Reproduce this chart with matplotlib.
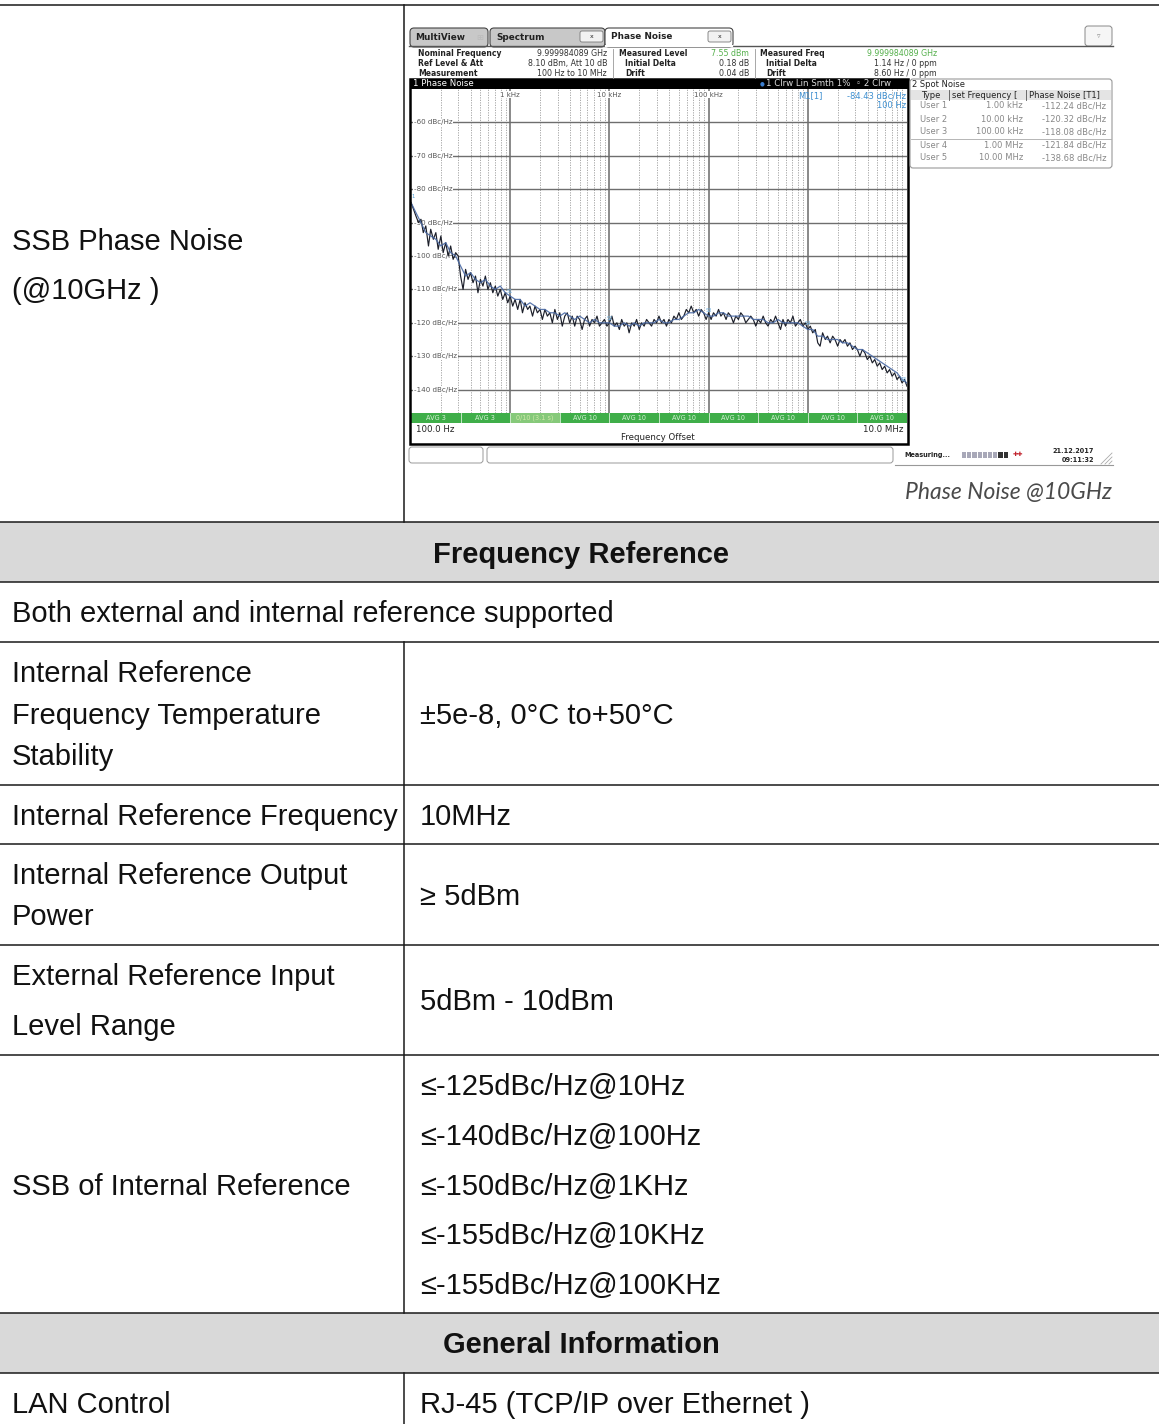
import matplotlib.pyplot as plt
import matplotlib.transforms as mtransforms
from matplotlib.patches import Rectangle, FancyBboxPatch

plt.rcParams['font.family'] = ['Liberation Sans', 'DejaVu Sans']

W, H = 1159, 1424

# ---------------- table text ----------------
phase_label = ["SSB Phase Noise", "(@10GHz )"]
section_titles = ["Frequency Reference", "General Information"]
full_row = "Both external and internal reference supported"
left_cells = [
    ["Internal Reference", "Frequency Temperature", "Stability"],
    ["Internal Reference Frequency"],
    ["Internal Reference Output", "Power"],
    ["External Reference Input", "Level Range"],
    ["SSB of Internal Reference"],
    ["LAN Control"],
]
right_cells = [
    ["±5e-8, 0°C to+50°C"],
    ["10MHz"],
    ["≥ 5dBm"],
    ["5dBm - 10dBm"],
    ["≤-125dBc/Hz@10Hz", "≤-140dBc/Hz@100Hz", "≤-150dBc/Hz@1KHz",
     "≤-155dBc/Hz@10KHz", "≤-155dBc/Hz@100KHz"],
    ["RJ-45 (TCP/IP over Ethernet )"],
]
caption = "Phase Noise @10GHz"

# ---------------- phase noise screenshot data ----------------
# sweep points: 40 per decade (mantissa of each point in a decade)
sweep_mant = [1.00, 1.06, 1.12, 1.19, 1.26, 1.33, 1.41, 1.50, 1.58, 1.68,
              1.78, 1.88, 2.00, 2.11, 2.24, 2.37, 2.51, 2.66, 2.82, 2.99,
              3.16, 3.35, 3.55, 3.76, 3.98, 4.22, 4.47, 4.73, 5.01, 5.31,
              5.62, 5.96, 6.31, 6.68, 7.08, 7.50, 7.94, 8.41, 8.91, 9.44]
sweep_decades = [1e2, 1e3, 1e4, 1e5, 1e6]
freqs = [m * d for d in sweep_decades for m in sweep_mant] + [1e7]

# trace 2 (Clrw, dark)
trace_clrw = [
    -84, -86, -88, -90, -89, -93, -91, -97, -92, -95,
    -93, -98, -94, -99, -96, -100, -97, -101, -99, -100,
    -106, -110, -104, -107, -105, -108, -106, -111, -107, -109,
    -106, -110, -108, -111, -109, -112, -110, -113, -111, -114,
    -112, -115, -113, -116, -113, -117, -114, -116, -115, -118,
    -115, -117, -116, -119, -116, -118, -117, -120, -116, -119,
    -117, -121, -118, -117, -120, -118, -121, -118, -119, -122,
    -119, -118, -121, -119, -120, -118, -121, -120, -119, -121,
    -120, -118, -121, -120, -122, -119, -121, -120, -123, -120,
    -121, -119, -122, -120, -121, -119, -120, -121, -119, -120,
    -118, -120, -119, -121, -119, -120, -118, -119, -117, -119,
    -118, -116, -117, -115, -117, -116, -118, -116, -117, -119,
    -117, -119, -117, -118, -116, -118, -117, -119, -117, -118,
    -120, -118, -119, -117, -118, -120, -119, -118, -119, -121,
    -119, -120, -118, -120, -121, -119, -120, -118, -120, -122,
    -119, -121, -119, -120, -118, -121, -120, -119, -121, -120,
    -122, -121, -123, -122, -126, -127, -123, -125, -124, -126,
    -124, -125, -127, -125, -126, -125, -127, -126, -128, -127,
    -128, -130, -128, -129, -131, -130, -132, -131, -133, -132,
    -134, -133, -135, -134, -136, -135, -137, -136, -138, -137,
    -139]

# trace 1 (Clrw Lin Smth 1%, blue) on a coarser grid
smooth_freqs = [100, 112, 126, 141, 158, 178, 200, 224, 251, 282,
                316, 355, 398, 447, 501, 562, 631, 708, 794, 891,
                1000, 1122, 1259, 1413, 1585, 1778, 1995, 2239, 2512, 2818,
                3162, 3548, 3981, 4467, 5012, 5623, 6310, 7079, 7943, 8913,
                1.000e4, 1.122e4, 1.259e4, 1.413e4, 1.585e4, 1.778e4, 1.995e4, 2.239e4, 2.512e4, 2.818e4,
                3.162e4, 3.548e4, 3.981e4, 4.467e4, 5.012e4, 5.623e4, 6.310e4, 7.079e4, 7.943e4, 8.913e4,
                1.000e5, 1.122e5, 1.259e5, 1.413e5, 1.585e5, 1.778e5, 1.995e5, 2.239e5, 2.512e5, 2.818e5,
                3.162e5, 3.548e5, 3.981e5, 4.467e5, 5.012e5, 5.623e5, 6.310e5, 7.079e5, 7.943e5, 8.913e5,
                1.000e6, 1.122e6, 1.259e6, 1.413e6, 1.585e6, 1.778e6, 1.995e6, 2.239e6, 2.512e6, 2.818e6,
                3.162e6, 3.548e6, 3.981e6, 4.467e6, 5.012e6, 5.623e6, 6.310e6, 7.079e6, 7.943e6, 8.913e6,
                1.000e7]
trace_smooth = [-84, -87, -90, -93, -94, -95, -97, -96, -99, -100,
                -103, -106, -105, -107, -108, -107, -109, -110, -109, -111,
                -112, -113, -113, -115, -114, -115, -116, -116, -117, -117,
                -118, -117, -118, -119, -118, -119, -120, -119, -120, -120,
                -120, -121, -121, -120, -121, -120, -121, -120, -120, -120,
                -119, -120, -120, -119, -119, -118, -117, -117, -116, -117,
                -118, -118, -117, -117, -118, -118, -118, -118, -118, -119,
                -119, -119, -120, -120, -119, -120, -120, -120, -120, -121,
                -122, -122, -124, -124, -125, -125, -125, -126, -126, -127,
                -128, -128, -129, -130, -131, -132, -133, -134, -135, -137,
                -138]

y_levels = [-60, -70, -80, -90, -100, -110, -120, -130, -140]
decade_labels = ["1 kHz", "10 kHz", "100 kHz"]
decade_freqs = [1e3, 1e4, 1e5]
avg_edges = [100, 316.2, 1000, 3162, 1e4, 3.162e4, 1e5, 3.162e5, 1e6, 3.162e6, 1e7]
avg_labels = ["AVG 3", "AVG 3", "0/10 (3.1 s)", "AVG 10", "AVG 10", "AVG 10",
              "AVG 10", "AVG 10", "AVG 10", "AVG 10"]

spot_users = ["User 1", "User 2", "User 3", "User 4", "User 5"]
spot_freq = ["1.00 kHz", "10.00 kHz", "100.00 kHz", "1.00 MHz", "10.00 MHz"]
spot_noise = ["-112.24 dBc/Hz", "-120.32 dBc/Hz", "-118.08 dBc/Hz",
              "-121.84 dBc/Hz", "-138.68 dBc/Hz"]
spot_hz = [1e3, 1e4, 1e5, 1e6, 1e7]
spot_db = [-112.24, -120.32, -118.08, -121.84, -138.68]

info_labels = [["Nominal Frequency", "Ref Level & Att", "Measurement"],
               ["Measured Level", " Initial Delta", " Drift"],
               ["Measured Freq", " Initial Delta", " Drift"]]
info_values = [["9.999984089 GHz", "8.10 dBm, Att 10 dB", "100 Hz to 10 MHz"],
               ["7.55 dBm", "0.18 dB", "0.04 dB"],
               ["9.999984089 GHz", "1.14 Hz / 0 ppm", "8.60 Hz / 0 ppm"]]

# ---------------- figure ----------------
fig = plt.figure(figsize=(W / 100, H / 100), dpi=100)
ax = fig.add_axes([0, 0, 1, 1])
ax.set_xlim(0, W)
ax.set_ylim(H, 0)
ax.axis('off')
ax.set_zorder(2)

TS = 21
LC = '#1a1a1a'


def t(x, y, s, **kw):
    kw.setdefault('fontsize', TS)
    kw.setdefault('color', '#111111')
    kw.setdefault('va', 'baseline')
    ax.text(x, y, s, **kw)


# table grey bands and lines
for y0 in [522, 1313]:
    ax.add_patch(Rectangle((0, y0), W, 60, fc='#d9d9d9', ec='none', zorder=0))
for y in [5, 522, 582, 642, 785, 844, 945, 1055, 1313, 1373]:
    ax.plot([0, W], [y, y], color=LC, lw=1.1, zorder=1)
for y0, y1 in [(5, 522), (642, 1313), (1373, H)]:
    ax.plot([404, 404], [y0, y1], color=LC, lw=1.1, zorder=1)

# table texts
t(12, 250, phase_label[0])
t(12, 299, phase_label[1])
t(581, 563, section_titles[0], ha='center', fontweight='bold')
t(581, 1353, section_titles[1], ha='center', fontweight='bold')
t(12, 622, full_row)

left_y = [[682, 724, 765], [825], [884, 925], [985, 1035], [1195], [1413]]
right_y = [[724], [825], [905], [1010], [1095, 1145, 1195, 1244, 1294], [1413]]
for lines, ys in zip(left_cells, left_y):
    for s, y in zip(lines, ys):
        t(12, y, s)
for lines, ys in zip(right_cells, right_y):
    for s, y in zip(lines, ys):
        t(420, y, s)

# ---------------- screenshot chrome ----------------
SF = 'DejaVu Sans'


def st(x, y, s, size=6, **kw):
    kw.setdefault('color', '#222222')
    kw.setdefault('va', 'center')
    ax.text(x, y, s, fontsize=size, family=SF, **kw)


# tabs
ax.plot([409, 1113], [46, 46], color='#555555', lw=1.0)
for x0, x1, fc in [(410, 488, '#c8c8c8'), (490, 605, '#c8c8c8'), (605, 733, 'white')]:
    ax.add_patch(FancyBboxPatch((x0, 28), x1 - x0, 19, boxstyle='round,pad=0,rounding_size=4',
                                fc=fc, ec='#444444', lw=0.8))
st(415, 37.5, "MultiView", 6.4, fontweight='bold')
st(476, 37, "⊞", 6, color='#bbbbbb')
st(496, 37.5, "Spectrum", 6.4, fontweight='bold')
st(611, 36.5, "Phase Noise", 6.4, fontweight='bold')
for bx in [580, 708]:
    ax.add_patch(FancyBboxPatch((bx, 31), 23, 11, boxstyle='round,pad=0,rounding_size=2',
                                fc='#f2f2f2', ec='#777777', lw=0.6))
    st(bx + 11.5, 36.5, "x", 4.5, ha='center')
ax.plot([606, 732], [46, 46], color='white', lw=1.6)
ax.add_patch(FancyBboxPatch((1085, 26), 27, 20, boxstyle='round,pad=0,rounding_size=3',
                            fc='#f6f6f6', ec='#888888', lw=0.7))
st(1098.5, 36, "▿", 5, ha='center', color='#888888')

# info block
label_x = [[418, 418, 418], [619, 625, 625], [760, 766, 766]]
value_x = [607, 749, 937]
rows_y = [54, 63.5, 73]
for c in range(3):
    for r in range(3):
        st(label_x[c][r], rows_y[r], info_labels[c][r].strip(), 5.5, fontweight='bold')
        col = '#55b04c' if (r == 0 and c > 0) else '#333333'
        st(value_x[c], rows_y[r], info_values[c][r], 5.7, ha='right', color=col)
for x in [613, 755]:
    ax.plot([x, x], [49, 78], color='#999999', lw=0.6)

# plot frame and title bar
ax.add_patch(Rectangle((410, 79), 498, 10, fc='black', ec='none'))
st(413, 84, "1 Phase Noise", 6.2, color='white')
st(760, 84, "●", 4, color='#3c7fd0')
st(766, 84, "1 Clrw Lin Smth 1%  ◦ 2 Clrw", 6.2, color='#dddddd')
ax.add_patch(Rectangle((410, 79), 498, 365, fc='none', ec='black', lw=1.8))
st(798, 96, "M1[1]", 6, color='#3d8fd0')
st(906, 96, "-84.43 dBc/Hz", 6, ha='right', color='#3d8fd0')
st(906, 106, "100 Hz", 6, ha='right', color='#3d8fd0')
st(416, 429, "100.0 Hz", 6.2)
st(903, 429, "10.0 MHz", 6.2, ha='right')
st(658, 437, "Frequency Offset", 6.2, ha='center')

# spot noise table
ax.add_patch(FancyBboxPatch((910, 79), 202, 89, boxstyle='round,pad=0,rounding_size=3',
                            fc='white', ec='#999999', lw=0.8))
st(912, 84.5, "2 Spot Noise", 6)
ax.add_patch(Rectangle((911, 89.5), 200, 10, fc='#e4e4e4', ec='none'))
st(921, 95, "Type", 6)
st(952, 95, "set Frequency [", 6)
st(1029, 95, "Phase Noise [T1]", 6)
for x in [949, 1026]:
    ax.plot([x, x], [90, 100], color='#555555', lw=0.6)
for i in range(5):
    y = 106 + i * 13
    st(920, y, spot_users[i], 6, color='#888888')
    st(1023, y, spot_freq[i], 6, ha='right', color='#888888')
    st(1106, y, spot_noise[i], 6, ha='right', color='#888888')
ax.plot([911, 1111], [139, 139], color='#aaaaaa', lw=0.6)

# status bar
for x0, x1 in [(409, 483), (487, 893)]:
    ax.add_patch(FancyBboxPatch((x0, 447), x1 - x0, 16, boxstyle='round,pad=0,rounding_size=3',
                                fc='white', ec='#999999', lw=0.7))
st(904, 455, "Measuring...", 4.7, fontweight='bold')
for i in range(9):
    col = '#333333' if i >= 7 else '#a8a8b8'
    ax.add_patch(Rectangle((962 + i * 5.2, 452), 4.2, 6, fc=col, ec='none'))
st(1013, 455, "✚✚", 4.5, color='#c0202a')
st(1094, 451, "21.12.2017", 4.7, ha='right', fontweight='bold')
st(1094, 459.5, "09:11:32", 4.7, ha='right', fontweight='bold')
for k in range(3):
    ax.plot([1101 + k * 4, 1112], [464, 453 + k * 4], color='#aaaaaa', lw=0.6)
ax.plot([895, 1113], [465, 465], color='#999999', lw=0.8)

# caption
ax.text(1112, 499, caption, fontsize=16.5, family='Lato', style='italic',
        fontweight='normal', color='#4a4a4a', ha='right', va='baseline')

# ---------------- phase noise plot ----------------
pax = fig.add_axes([411 / W, 1 - 423 / H, 496 / W, 334 / H])
pax.set_zorder(1)
pax.set_xscale('log')
pax.set_xlim(100, 1e7)
pax.set_ylim(-150, -50)
for s in pax.spines.values():
    s.set_visible(False)
pax.tick_params(which='both', length=0, labelbottom=False, labelleft=False)
pax.set_xticks([])
pax.set_yticks([])
pax.minorticks_off()

for d in [1e2, 1e3, 1e4, 1e5, 1e6]:
    for k in range(2, 10):
        pax.axvline(k * d, color='#9c9c9c', lw=0.6, ls=(0, (1.5, 1.5)), zorder=1)
for d in [1e3, 1e4, 1e5, 1e6]:
    pax.axvline(d, color='#808080', lw=1.3, zorder=1)
for v in y_levels:
    pax.axhline(v, color='#6e6e6e', lw=1.0, zorder=1)

bt = mtransforms.blended_transform_factory(pax.transAxes, pax.transData)
for v in y_levels:
    pax.text(0.006, v, f"{v} dBc/Hz", transform=bt, fontsize=5.1, family=SF,
             color='#555555', va='center', zorder=2,
             bbox=dict(fc='white', ec='none', pad=0.4))
for f, lab in zip(decade_freqs, decade_labels):
    pax.text(f, -51.7, lab, fontsize=5, family=SF, color='#555555', ha='center',
             va='center', zorder=2, bbox=dict(fc='white', ec='none', pad=0.3))

pax.plot(freqs, trace_clrw, color='#1c1f2a', lw=0.85, zorder=3)
pax.plot(smooth_freqs, trace_smooth, color='#4a6aa5', lw=0.9, alpha=0.9, zorder=4)
pax.text(101, -82.5, "1", fontsize=3.8, family=SF, color='#4fa0d8', zorder=5)
for i, (f, v) in enumerate(zip(spot_hz, spot_db)):
    pax.text(f, v + 1.2, f"S{i + 1}", fontsize=3.6, family=SF, color='#6fb0e0',
             ha='center' if i < 4 else 'right', zorder=5)

for i, (a, b) in enumerate(zip(avg_edges[:-1], avg_edges[1:])):
    fc = '#86c97a' if i == 2 else '#3fae49'
    tc = '#cfe9a8' if i == 2 else '#d6f0d6'
    pax.fill_between([a, b], -150, -147, color=fc, zorder=6, lw=0)
    pax.text((a * b) ** 0.5, -148.5, avg_labels[i], fontsize=4.7, family=SF,
             color=tc, ha='center', va='center', zorder=7)
    if i > 0:
        pax.plot([a, a], [-150, -147], color='#d8efd8', lw=0.6, zorder=7)

fig.savefig('out.png', dpi=100)
